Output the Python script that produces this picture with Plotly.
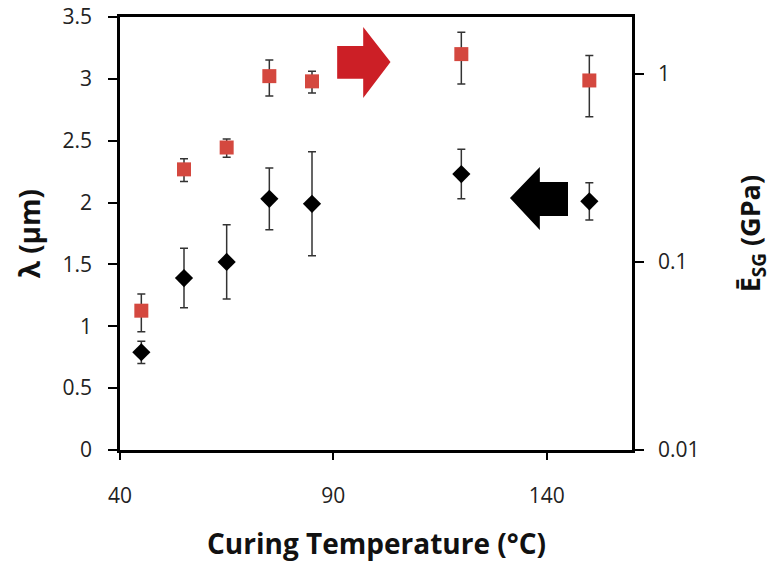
import plotly.graph_objects as go
import math

# ---- data ----
temperature = [45, 55, 65, 75, 85, 120, 150]
wavelength_um = [0.79, 1.39, 1.52, 2.03, 1.99, 2.23, 2.01]
wavelength_err = [0.09, 0.24, 0.30, 0.25, 0.42, 0.20, 0.15]
modulus_gpa = [0.055, 0.31, 0.405, 0.97, 0.91, 1.27, 0.92]
modulus_err = [0.0125, 0.043, 0.045, 0.21, 0.12, 0.39, 0.33]

x_ticks = [40, 90, 140]
y_ticks = [0, 0.5, 1, 1.5, 2, 2.5, 3, 3.5]
y_ticktext = ["0", "0.5", "1", "1.5", "2", "2.5", "3", "3.5"]
y2_ticks = [0.01, 0.1, 1]
y2_ticktext = ["0.01", "0.1", "1"]

FONT = "Open Sans"
TICK_FONT = dict(family=FONT, size=21, color="#222")
TITLE_FONT = dict(family=FONT, size=28, color="#111")

fig = go.Figure()

fig.add_trace(go.Scatter(
    x=temperature, y=modulus_gpa, yaxis="y2", mode="markers",
    marker=dict(symbol="square", size=14, color="#d4483f"),
    error_y=dict(type="data", array=modulus_err, visible=True,
                 color="#333", thickness=1.5, width=4),
    showlegend=False))

fig.add_trace(go.Scatter(
    x=temperature, y=wavelength_um, yaxis="y", mode="markers",
    marker=dict(symbol="diamond", size=14, color="#000"),
    error_y=dict(type="data", array=wavelength_err, visible=True,
                 color="#333", thickness=1.5, width=4),
    showlegend=False))

# arrows (decorations) in x / left-y data coordinates
def path(pts):
    return "M " + " L ".join(f"{a},{b}" for a, b in pts) + " Z"

red_arrow = [(90.9, 3.266), (97.0, 3.266), (97.0, 3.42), (103.4, 3.137),
             (97.0, 2.846), (97.0, 3.0), (90.9, 3.0)]
black_arrow = [(145.0, 2.167), (138.4, 2.167), (138.4, 2.288), (131.4, 2.037),
               (138.4, 1.779), (138.4, 1.892), (145.0, 1.892)]
fig.add_shape(type="path", xref="x", yref="y", path=path(red_arrow),
              fillcolor="#cc1f26", line=dict(width=0))
fig.add_shape(type="path", xref="x", yref="y", path=path(black_arrow),
              fillcolor="#000", line=dict(width=0))

common = dict(ticks="outside", tickwidth=2, tickcolor="#000", showline=True,
              linecolor="#000", linewidth=2.5, showgrid=False, zeroline=False,
              tickfont=TICK_FONT, automargin=False)

fig.update_layout(
    template="none",
    width=772, height=563,
    margin=dict(l=120, r=140, t=17, b=113, pad=0),
    paper_bgcolor="white", plot_bgcolor="white",
    xaxis=dict(range=[40, 160], tickvals=x_ticks, ticklen=7, mirror=True,
               ticklabelstandoff=18, **common),
    yaxis=dict(range=[0, 3.5], tickvals=y_ticks, ticktext=y_ticktext,
               ticklen=9, ticklabelstandoff=12, **common),
    yaxis2=dict(type="log", range=[-2, math.log10(2)], overlaying="y",
                side="right", tickvals=y2_ticks, ticktext=y2_ticktext,
                ticklen=9, ticklabelstandoff=10, **common),
    annotations=[
        dict(text="<b>Curing Temperature (°C)</b>", x=0.5, y=-0.215,
             xref="paper", yref="paper", showarrow=False, font=TITLE_FONT,
             xanchor="center", yanchor="middle"),
        dict(text="<b>λ (μm)</b>", x=-0.178, y=0.5, xref="paper",
             yref="paper", showarrow=False, textangle=-90, font=TITLE_FONT,
             xanchor="center", yanchor="middle"),
        dict(text="<b>Ē<sub>SG</sub> (GPa)</b>", x=1.234, y=0.5, xref="paper",
             yref="paper", showarrow=False, textangle=-90,
             font=dict(family=FONT, size=27, color="#111"),
             xanchor="center", yanchor="middle"),
    ],
)

# remove the default 8px page margin so the figure fills the window exactly
fig.write_html(
    "out.html",
    config={"displayModeBar": False},
    post_script="document.body.style.margin='0';document.body.style.overflow='hidden';",
)
